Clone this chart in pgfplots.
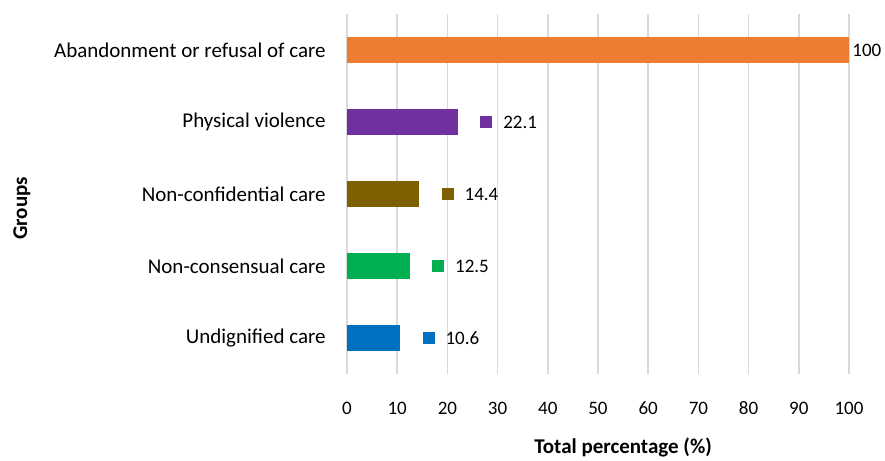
\documentclass[border=0pt]{standalone}
\usepackage{pgfplots}
\pgfplotsset{compat=1.18}
\usepackage{fontspec}
\setmainfont{Carlito}
\definecolor{cOrange}{HTML}{ED7D31}
\definecolor{cPurple}{HTML}{7030A0}
\definecolor{cBrown}{HTML}{7F6000}
\definecolor{cGreen}{HTML}{00B050}
\definecolor{cBlue}{HTML}{0070C0}
\definecolor{cGrid}{HTML}{D9D9D9}
\newcommand{\lbl}[1]{\hspace{11pt}\textcolor{#1}{\rule{6pt}{6pt}}\hspace{5.5pt}\pgfmathprintnumber{\pgfplotspointmeta}}
\begin{document}
\begin{tikzpicture}
\useasboundingbox (-173.5pt,-43.5pt) rectangle (269pt,187pt);
\begin{axis}[
  at={(0,0)}, anchor=south west, scale only axis,
  width=251pt, height=180pt,
  xmin=0, xmax=100, ymin=-0.5, ymax=4.5,
  xtick={0,10,...,100}, ytick={0,1,2,3,4},
  yticklabels={Undignified care, Non-consensual care, Non-confidential care, Physical violence, Abandonment or refusal of care},
  xmajorgrids, major grid style={draw=cGrid, line width=0.75pt},
  axis line style={draw=none}, major tick length=0pt,
  tick label style={font=\fontsize{9.5}{11}\selectfont, inner sep=0pt},
  /pgf/number format/assume math mode=true,
  xticklabel style={anchor=center, yshift=-17pt},
  yticklabel style={anchor=east, xshift=-10.5pt, font=\fontsize{10.5}{12}\selectfont},
  xbar, bar width=13pt,
  point meta=x,
  nodes near coords style={font=\fontsize{9.5}{11}\selectfont, inner sep=0pt, anchor=west, text=black},
  xlabel={Total percentage (\%)}, ylabel={Groups},
  label style={font=\bfseries\fontsize{10.5}{12}\selectfont},
  xlabel style={at={(axis description cs:0.55,0)}, anchor=center, yshift=-36.5pt},
  ylabel style={at={(axis description cs:0,0.46)}, anchor=center, yshift=162.5pt},
]
\addplot[fill=cBlue, draw=none, bar shift=0pt, nodes near coords={\lbl{cBlue}}] coordinates {(10.6,0)};
\addplot[fill=cGreen, draw=none, bar shift=0pt, nodes near coords={\lbl{cGreen}}] coordinates {(12.5,1)};
\addplot[fill=cBrown, draw=none, bar shift=0pt, nodes near coords={\lbl{cBrown}}] coordinates {(14.4,2)};
\addplot[fill=cPurple, draw=none, bar shift=0pt, nodes near coords={\lbl{cPurple}}] coordinates {(22.1,3)};
\addplot[fill=cOrange, draw=none, bar shift=0pt, nodes near coords={\hspace{1.5pt}\pgfmathprintnumber{\pgfplotspointmeta}}] coordinates {(100,4)};
\end{axis}
\end{tikzpicture}
\end{document}
